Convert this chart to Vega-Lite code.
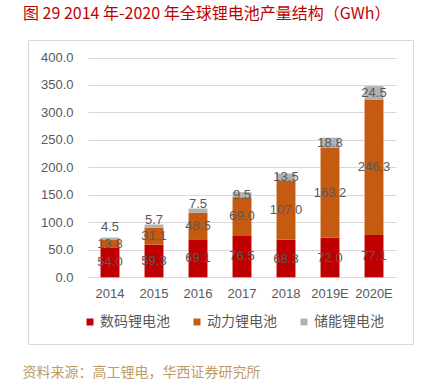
{
  "$schema": "https://vega.github.io/schema/vega-lite/v6.json",
  "width": 385,
  "height": 304,
  "autosize": {"type": "none"},
  "padding": {"left": 28, "top": 40, "right": 12, "bottom": 44},
  "title": {
    "text": "图 29 2014 年-2020 年全球锂电池产量结构（GWh）",
    "anchor": "start",
    "frame": "group",
    "align": "left",
    "color": "#C00000",
    "font": "Noto Sans CJK SC",
    "fontSize": 16,
    "fontWeight": "normal",
    "offset": 18,
    "dx": -5
  },
  "config": {
    "view": {"stroke": "#D9D9D9"},
    "text": {"font": "Liberation Sans"},
    "axisY": {
      "values": [0, 50, 100, 150, 200, 250, 300, 350, 400],
      "format": ".1f",
      "domain": false,
      "ticks": false,
      "tickSize": 0,
      "grid": true,
      "gridColor": "#D9D9D9",
      "labelOverlap": false,
      "labelPadding": -45,
      "labelAlign": "right",
      "labelColor": "#595959",
      "labelFont": "Liberation Sans",
      "labelFontSize": 13
    }
  },
  "data": {
    "values": [
      {"year": "2014", "type": "数码锂电池", "value": 54.0},
      {"year": "2014", "type": "动力锂电池", "value": 13.8},
      {"year": "2014", "type": "储能锂电池", "value": 4.5},
      {"year": "2015", "type": "数码锂电池", "value": 59.3},
      {"year": "2015", "type": "动力锂电池", "value": 31.1},
      {"year": "2015", "type": "储能锂电池", "value": 5.7},
      {"year": "2016", "type": "数码锂电池", "value": 69.1},
      {"year": "2016", "type": "动力锂电池", "value": 48.5},
      {"year": "2016", "type": "储能锂电池", "value": 7.5},
      {"year": "2017", "type": "数码锂电池", "value": 76.5},
      {"year": "2017", "type": "动力锂电池", "value": 69.0},
      {"year": "2017", "type": "储能锂电池", "value": 9.5},
      {"year": "2018", "type": "数码锂电池", "value": 68.3},
      {"year": "2018", "type": "动力锂电池", "value": 107.0},
      {"year": "2018", "type": "储能锂电池", "value": 13.5},
      {"year": "2019E", "type": "数码锂电池", "value": 72.0},
      {"year": "2019E", "type": "动力锂电池", "value": 163.2},
      {"year": "2019E", "type": "储能锂电池", "value": 18.8},
      {"year": "2020E", "type": "数码锂电池", "value": 77.1},
      {"year": "2020E", "type": "动力锂电池", "value": 246.3},
      {"year": "2020E", "type": "储能锂电池", "value": 24.5}
    ]
  },
  "transform": [
    {"stack": "value", "groupby": ["year"], "sort": [{"field": "type", "order": "descending"}], "as": ["v0", "v1"]},
    {"calculate": "datum.type === '储能锂电池' && datum.value < 9 ? (datum.value < 5 ? datum.v1 + 20 : datum.v1 + 8) : (datum.v0 + datum.v1) / 2", "as": "labelPos"}
  ],
  "encoding": {
    "x": {
      "field": "year",
      "type": "nominal",
      "sort": null,
      "scale": {"range": [60, 368], "paddingInner": 0.57, "paddingOuter": 0.285},
      "title": "资料来源：高工锂电，华西证券研究所",
      "axis": {
        "domain": false,
        "ticks": false,
        "tickSize": 0,
        "grid": false,
        "labelAngle": 0,
        "labelPadding": -57,
        "labelColor": "#595959",
        "labelFont": "Liberation Sans",
        "labelFontSize": 13,
        "titleX": -6,
        "titleY": 28,
        "titleAlign": "left",
        "titleAnchor": "start",
        "titleBaseline": "middle",
        "titleColor": "#BF9B64",
        "titleFont": "Noto Sans CJK SC",
        "titleFontSize": 14,
        "titleFontWeight": "normal"
      }
    }
  },
  "layer": [
    {
      "mark": {"type": "bar"},
      "encoding": {
        "y": {
          "field": "v0",
          "type": "quantitative",
          "scale": {"domain": [0, 400], "range": [237.3, 17.5], "nice": false},
          "title": null
        },
        "y2": {"field": "v1"},
        "color": {
          "field": "type",
          "type": "nominal",
          "scale": {
            "domain": ["数码锂电池", "动力锂电池", "储能锂电池"],
            "range": ["#C00000", "#C55A11", "#B2B2B2"]
          },
          "legend": {
            "orient": "none",
            "legendX": 55,
            "legendY": 275,
            "direction": "horizontal",
            "title": null,
            "symbolType": "square",
            "symbolSize": 49,
            "symbolStrokeWidth": 0,
            "labelFont": "Noto Sans CJK SC",
            "labelFontSize": 14,
            "labelColor": "#595959",
            "labelOffset": 3,
            "columnPadding": 20,
            "padding": 0
          }
        }
      }
    },
    {
      "mark": {"type": "text", "fontSize": 13, "color": "#595959", "baseline": "middle"},
      "encoding": {
        "y": {"field": "labelPos", "type": "quantitative", "title": null},
        "text": {"field": "value", "type": "quantitative", "format": ".1f"}
      }
    }
  ]
}
